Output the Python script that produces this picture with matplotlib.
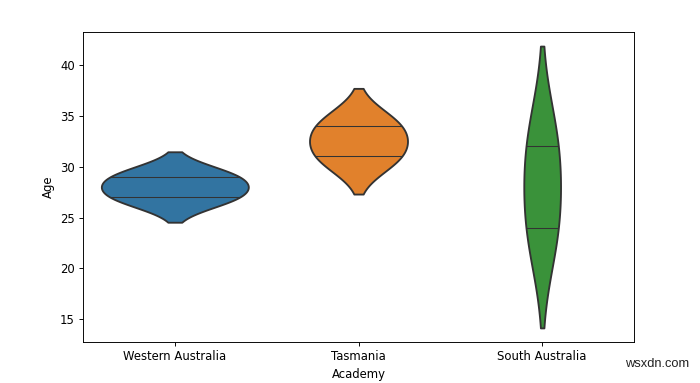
import matplotlib.pyplot as plt
import seaborn as sns
import pandas as pd

# data: two players per academy
academy = ['Western Australia', 'Western Australia', 'Tasmania', 'Tasmania',
           'South Australia', 'South Australia']
age = [27, 29, 31, 34, 24, 32]

df = pd.DataFrame({'Academy': academy, 'Age': age})

# the original was rendered larger and shrunk, so draw at a lower dpi
dpi = 84
fig = plt.figure(figsize=(700 / dpi, 383 / dpi), dpi=dpi)
ax = fig.add_axes([83 / 700, 1 - 342 / 383, (634 - 83) / 700, (342 - 32) / 383])

sns.violinplot(data=df, x='Academy', y='Age', hue='Academy', inner='stick',
               palette=['#1f77b4', '#ff7f0e', '#2ca02c'], legend=False, ax=ax,
               saturation=0.75, common_norm=True, linewidth=1.6,
               linecolor='#333333', inner_kws={'linewidth': 0.9})

fig.text(0.985, 0.035, 'wsxdn.com', ha='right', va='bottom', fontsize=11,
         color='#222222', family='Liberation Sans')

plt.savefig('out.png', dpi=dpi)
